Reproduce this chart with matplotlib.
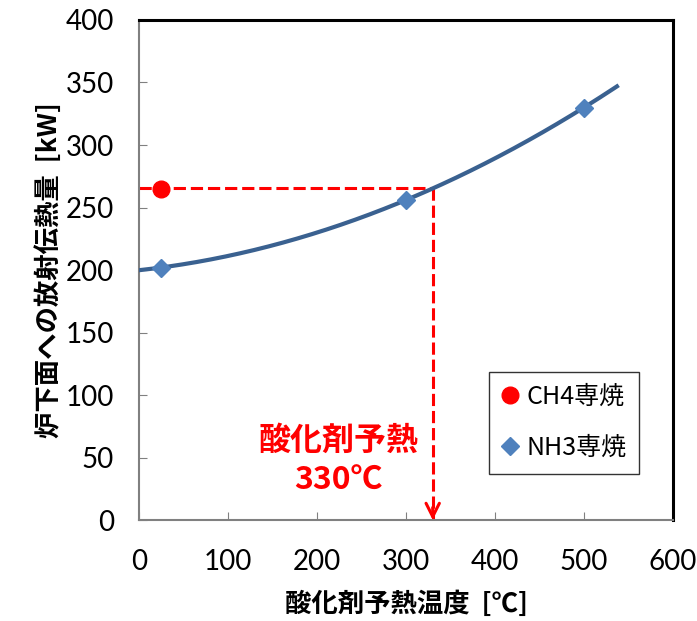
import matplotlib
matplotlib.use('Agg')
import matplotlib.pyplot as plt
import numpy as np

# data
nh3_x = [25, 300, 500]
nh3_y = [202, 256, 330]
ch4_x = [25]
ch4_y = [265]
preheat_x = 330
trend_end = 537

xticks = [0, 100, 200, 300, 400, 500, 600]
yticks = [0, 50, 100, 150, 200, 250, 300, 350, 400]

jp = ['Noto Sans CJK JP', 'DejaVu Sans']
plt.rcParams['font.family'] = jp

fig = plt.figure(figsize=(6.97, 6.21), dpi=100)
ax = fig.add_axes([0.1994, 0.1626, 0.7662, 0.8052])

# polynomial trendline through the NH3 points
coef = np.polyfit(nh3_x, nh3_y, 2)
tx = np.linspace(0, trend_end, 200)
ax.plot(tx, np.polyval(coef, tx), color='#3A6190', lw=3, zorder=3)

ax.plot(nh3_x, nh3_y, linestyle='none', marker='D', ms=9, color='#4F81BD',
        label='NH3専焼', zorder=4)
ax.plot(ch4_x, ch4_y, linestyle='none', marker='o', ms=12, color='#FF0000',
        label='CH4専焼', zorder=4)

# red guide lines
hy = np.polyval(coef, preheat_x)
ax.plot([0, preheat_x], [hy, hy], color='#FF0000', lw=2.2, ls=(0, (4, 1.6)), zorder=2)
ax.plot([preheat_x, preheat_x], [hy, 1], color='#FF0000', lw=2.2, ls=(0, (4, 1.6)), zorder=2)
ax.annotate('', xy=(preheat_x, 0), xytext=(preheat_x, 10),
            arrowprops=dict(arrowstyle='->', color='#FF0000', lw=2.2,
                            mutation_scale=24, shrinkA=0, shrinkB=0), zorder=2)
ax.text(224, 63, '酸化剤予熱', color='#FF0000', fontsize=23, fontweight='bold',
        ha='center', va='center', family=jp)
ax.text(224, 31, '330℃', color='#FF0000', fontsize=23, fontweight='bold',
        ha='center', va='center', family=jp)

ax.set_xlim(0, 600)
ax.set_ylim(0, 400)
ax.set_xticks(xticks)
ax.set_yticks(yticks)
ax.tick_params(direction='in', length=6, color='#808080', labelsize=20)
ax.tick_params(axis='x', pad=21)
ax.tick_params(axis='y', pad=18)
for lab in ax.get_xticklabels() + ax.get_yticklabels():
    lab.set_family(['Lato', 'DejaVu Sans'])
for s in ['left', 'bottom']:
    ax.spines[s].set_color('#808080')
    ax.spines[s].set_linewidth(1.5)
for s in ['top', 'right']:
    ax.spines[s].set_color('black')
    ax.spines[s].set_linewidth(2.2)

ax.set_xlabel('酸化剤予熱温度  [℃]', fontsize=19, fontweight='bold', labelpad=11)
ax.set_ylabel('炉下面への放射伝熱量  [kW]', fontsize=19, fontweight='bold', labelpad=2)

h, l = ax.get_legend_handles_labels()
leg = ax.legend(h[::-1], l[::-1], loc='lower right', bbox_to_anchor=(0.936, 0.093),
                fontsize=18, frameon=True, fancybox=False, handlelength=0.7,
                handletextpad=0.3, labelspacing=1.0, borderpad=0.5,
                borderaxespad=0, edgecolor='black')
leg.get_frame().set_linewidth(1.0)

fig.savefig('out.png', dpi=100)
